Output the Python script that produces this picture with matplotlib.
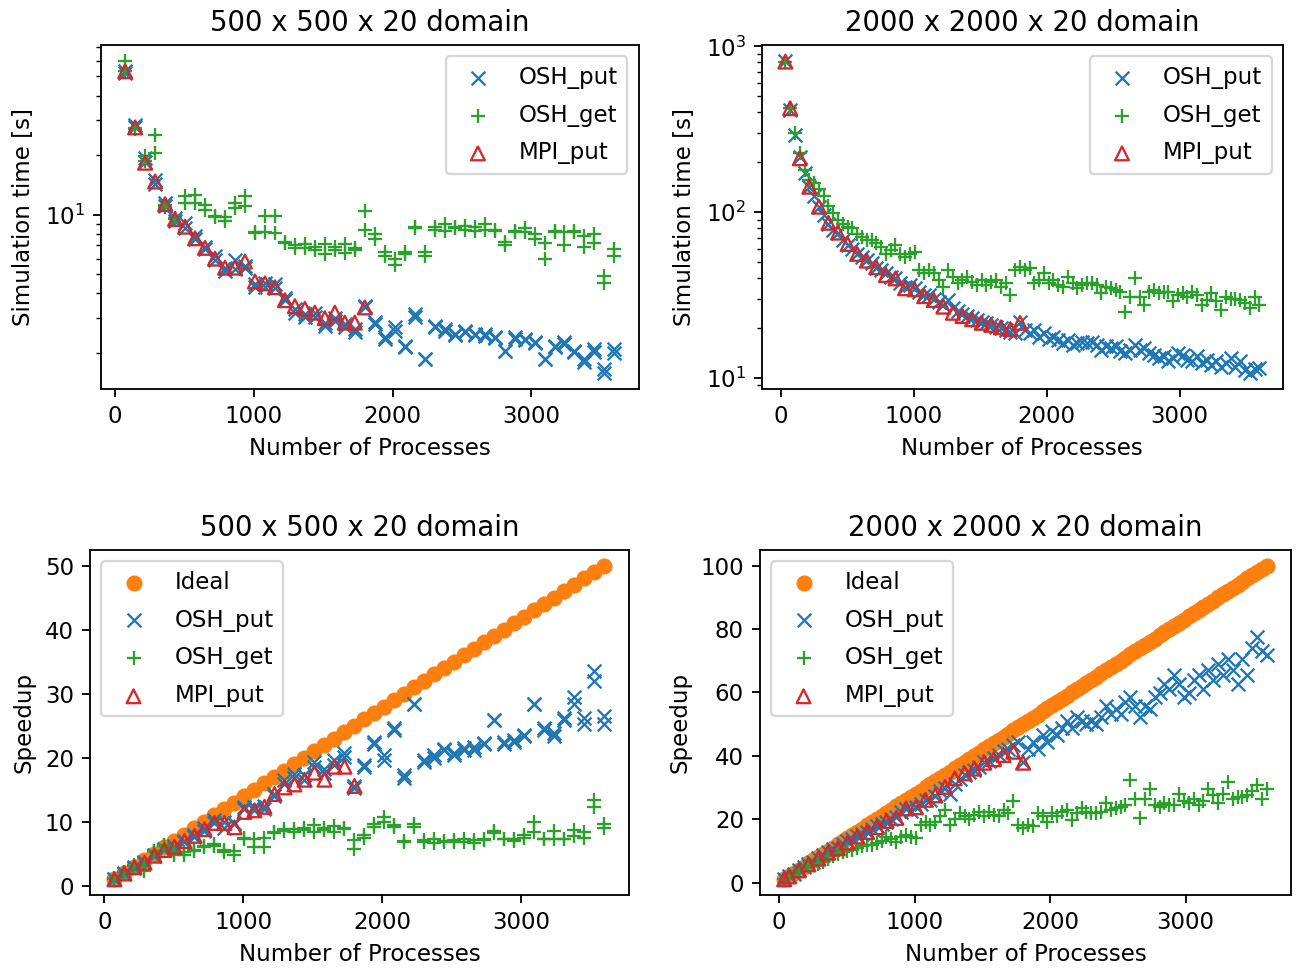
import numpy as np
import matplotlib
matplotlib.use('Agg')
import matplotlib.pyplot as plt

# process counts
procs_small = np.arange(72, 3601, 72)
procs_large = np.arange(36, 3601, 36)
mpi_procs_small = np.arange(72, 1801, 72)
mpi_procs_large = np.array([36] + list(range(72, 1801, 72)))

# 500 x 500 x 20 domain, simulation time [s], two runs per process count
osh_put_small_a = [53, 28.3, 19.3, 15.0, 11.4, 9.6, 9.1, 7.8, 6.9, 6.2,
                   5.4, 5.9, 5.5, 4.45, 4.5, 4.45, 3.8, 3.33, 3.15, 3.2,
                   2.85, 3.0, 2.8, 2.64, 3.46, 2.86, 2.4, 2.7, 2.18, 3.15,
                   1.87, 2.75, 2.65, 2.5, 2.6, 2.5, 2.5, 2.4, 2.05, 2.4,
                   2.36, 2.27, 1.87, 2.18, 2.27, 2.05, 1.87, 2.1, 1.66, 2.1]
osh_put_small_b = [52, 27.6, 18.5, 14.3, 11.0, 9.25, 8.6, 7.5, 6.7, 5.9,
                   5.2, 5.3, 5.4, 4.3, 4.3, 4.25, 3.7, 3.2, 3.03, 3.05,
                   2.75, 2.9, 2.7, 2.55, 3.4, 2.8, 2.36, 2.6, 2.15, 3.05,
                   1.87, 2.7, 2.6, 2.48, 2.55, 2.47, 2.45, 2.38, 2.05, 2.36,
                   2.32, 2.25, 1.87, 2.15, 2.22, 2.02, 1.8, 2.02, 1.58, 2.0]
osh_get_small_a = [60, 27.5, 19.7, 25.4, 11.2, 9.6, 12.4, 12.6, 11.2, 9.8,
                   9.7, 11.5, 12.4, 8.2, 9.8, 9.8, 7.3, 7.0, 7.1, 6.9,
                   7.1, 6.9, 7.1, 6.8, 10.4, 8.0, 6.5, 6.0, 6.5, 8.7,
                   6.5, 8.7, 9.0, 8.7, 8.8, 8.7, 9.0, 8.4, 7.3, 8.3,
                   8.6, 8.0, 7.2, 8.3, 8.2, 8.3, 7.8, 8.0, 4.9, 6.7]
osh_get_small_b = [53, 27.0, 18.7, 20.4, 10.9, 9.5, 11.4, 11.4, 10.6, 9.7,
                   9.3, 10.8, 11.1, 8.1, 8.2, 8.1, 7.2, 6.8, 6.8, 6.6,
                   6.3, 6.6, 6.4, 6.6, 8.4, 7.5, 6.2, 5.6, 6.3, 8.6,
                   6.2, 8.4, 8.3, 8.6, 8.4, 8.3, 8.4, 8.3, 7.0, 8.2,
                   8.2, 7.5, 6.0, 8.2, 7.0, 8.2, 6.9, 7.2, 4.5, 6.2]
mpi_put_small = [53, 27.6, 18.3, 14.7, 11.3, 9.5, 8.7, 7.6, 6.8, 6.0,
                 5.4, 5.4, 5.8, 4.6, 4.5, 4.3, 3.7, 3.45, 3.35, 3.2,
                 3.0, 3.2, 2.85, 2.85, 3.4]

# 2000 x 2000 x 20 domain, simulation time [s]
osh_put_large = [820, 415, 292, 216, 171, 142, 124, 107.6, 96, 85,
                 78, 74.6, 67.7, 63, 60, 56, 53.7, 51.3, 49, 45.7,
                 44.6, 42.6, 40.6, 39.7, 37.1, 35.4, 36.2, 34.6, 33, 31.5,
                 31.5, 30, 28.5, 27.5, 29.5, 26.4, 25.2, 24.1, 23.5, 23,
                 22.4, 21.5, 21.3, 20.8, 20.3, 19.8, 19.4, 18.9, 18.5, 21.6,
                 19.4, 18.5, 19.4, 17.6, 18.5, 17.2, 17.6, 16.8, 16.1, 16.8,
                 15.7, 16.1, 16.4, 16.1, 16.4, 15.7, 14.7, 15.4, 15.0, 15.4,
                 14.4, 14.0, 14.7, 15.7, 14.7, 15.0, 14.0, 13.7, 13.1, 13.4,
                 12.5, 13.1, 14.0, 13.7, 12.8, 12.5, 13.4, 12.2, 12.8, 11.9,
                 12.5, 11.6, 12.2, 13.1, 11.6, 12.5, 11.1, 10.6, 11.2, 11.4]
osh_get_large = [809, 423, 300, 226, 179, 156, 149, 137, 124, 108,
                 98, 89.5, 85, 81, 79.7, 74, 71, 67.7, 67.7, 64.6,
                 61.7, 56, 59, 63, 56, 53.7, 56, 57, 44.6, 42.6,
                 44.6, 42.6, 38.8, 35.4, 44.6, 40.6, 37.1, 38.8, 40.6, 38,
                 36.2, 38.8, 36.2, 38, 38.8, 35.4, 37.1, 31.5, 44.6, 46.8,
                 44.6, 45.7, 37, 38.8, 42.6, 37, 38.8, 36.2, 35.4, 40.7,
                 37, 34.6, 36.2, 37, 37, 36.2, 32.3, 35.4, 34.6, 33.8,
                 33, 25, 30.8, 39.7, 30.8, 27.5, 33, 33.8, 32.3, 33,
                 33, 28.8, 31.5, 32.3, 30.8, 33, 31.5, 27.5, 29.4, 32.3,
                 28.8, 25.6, 30.8, 30, 30, 29.4, 28.1, 26.2, 30.8, 27.5]
mpi_put_large = [809, 423, 211, 142, 107.6, 86, 75, 64.1, 55.8, 50.8,
                 46.3, 41.6, 39.7, 34.6, 34.1, 31.0, 29.4, 26.8, 24.6, 23.5,
                 22.5, 21.4, 20.8, 20.1, 19.6, 21.4]

fig = plt.figure(figsize=(1302 / 165, 970 / 165), dpi=165)
ax_tl = fig.add_axes([0.0773, 0.599, 0.4134, 0.3546])
ax_tr = fig.add_axes([0.585, 0.599, 0.4004, 0.3546])
ax_bl = fig.add_axes([0.0691, 0.0773, 0.414, 0.3557])
ax_br = fig.add_axes([0.5837, 0.0773, 0.4078, 0.3557])

lw = 1.0


def both(a, b):
    return np.concatenate([np.asarray(a, float), np.asarray(b, float)])


# time plots
xs2 = np.concatenate([procs_small, procs_small])
ax_tl.scatter(xs2, both(osh_put_small_a, osh_put_small_b), marker='x', color='C0', linewidths=lw, label='OSH_put')
ax_tl.scatter(xs2, both(osh_get_small_a, osh_get_small_b), marker='+', color='C2', linewidths=lw, label='OSH_get')
ax_tl.scatter(mpi_procs_small, mpi_put_small, marker='^', facecolors='none', edgecolors='C3', label='MPI_put')

ax_tr.scatter(procs_large, osh_put_large, marker='x', color='C0', linewidths=lw, label='OSH_put')
ax_tr.scatter(procs_large, osh_get_large, marker='+', color='C2', linewidths=lw, label='OSH_get')
ax_tr.scatter(mpi_procs_large, mpi_put_large, marker='^', facecolors='none', edgecolors='C3', label='MPI_put')

for ax, title in [(ax_tl, '500 x 500 x 20 domain'), (ax_tr, '2000 x 2000 x 20 domain')]:
    ax.set_yscale('log')
    ax.set_title(title)
    ax.set_xlabel('Number of Processes')
    ax.set_ylabel('Simulation time [s]')
    ax.legend(loc='upper right', scatterpoints=1, labelspacing=0.65)

# speedup plots (relative to the smallest process count)
put_a = np.asarray(osh_put_small_a)
get_a = np.asarray(osh_get_small_a)
mpi_s = np.asarray(mpi_put_small)
ax_bl.scatter(procs_small, procs_small / procs_small[0], marker='o', color='C1', label='Ideal')
ax_bl.scatter(xs2, put_a[0] / both(osh_put_small_a, osh_put_small_b), marker='x', color='C0', linewidths=lw, label='OSH_put')
ax_bl.scatter(xs2, get_a[0] / both(osh_get_small_a, osh_get_small_b), marker='+', color='C2', linewidths=lw, label='OSH_get')
ax_bl.scatter(mpi_procs_small, mpi_s[0] / mpi_s, marker='^', facecolors='none', edgecolors='C3', label='MPI_put')

put_l = np.asarray(osh_put_large)
get_l = np.asarray(osh_get_large)
mpi_l = np.asarray(mpi_put_large)
ax_br.scatter(procs_large, procs_large / procs_large[0], marker='o', color='C1', label='Ideal')
ax_br.scatter(procs_large, put_l[0] / put_l, marker='x', color='C0', linewidths=lw, label='OSH_put')
ax_br.scatter(procs_large, get_l[0] / get_l, marker='+', color='C2', linewidths=lw, label='OSH_get')
ax_br.scatter(mpi_procs_large, mpi_l[0] / mpi_l, marker='^', facecolors='none', edgecolors='C3', label='MPI_put')

for ax, title in [(ax_bl, '500 x 500 x 20 domain'), (ax_br, '2000 x 2000 x 20 domain')]:
    ax.set_title(title)
    ax.set_xlabel('Number of Processes')
    ax.set_ylabel('Speedup')
    ax.legend(loc='upper left', scatterpoints=1, labelspacing=0.65)

fig.savefig('out.png', dpi=165)
